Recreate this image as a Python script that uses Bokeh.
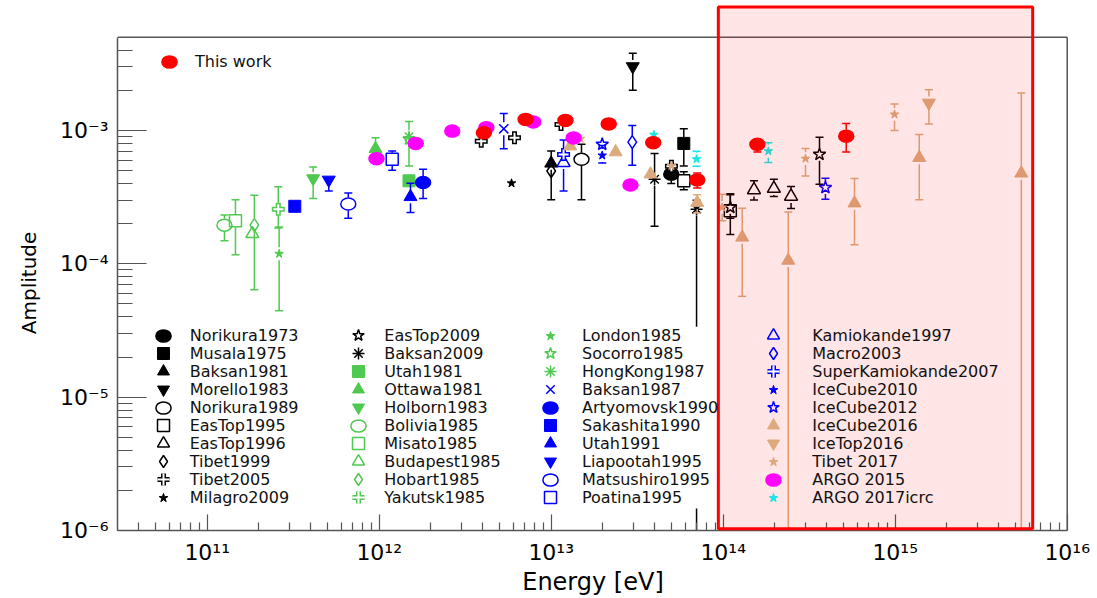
import math
from bokeh.plotting import figure
from bokeh.models import ColumnDataSource, FixedTicker, Legend, LegendItem
from bokeh.embed import file_html
from bokeh.resources import INLINE

# ---------------- data: (energy eV, amplitude[, lower, upper]) ----------------
norikura1973 = [(4.99e13, 4.70e-4, 4.0e-4, 5.5e-4)]
musala1975 = [(5.90e13, 8.0e-4, 5.42e-4, 1.03e-3)]
baksan1981 = [(1.0e13, 5.67e-4, 3.02e-4, 7.01e-4)]
morello1983 = [(2.98e13, 3.02e-3, 2.0e-3, 3.80e-3)]
norikura1989 = [(1.50e13, 6.08e-4, 3.02e-4, 7.87e-4)]
eastop1995 = [(5.9e13, 4.19e-4, 3.6e-4, 4.9e-4), (1.10e14, 2.5e-4, 1.66e-4, 3.36e-4)]
eastop1996 = [(1.51e14, 3.58e-4, 3.01e-4, 4.19e-4), (1.97e14, 3.67e-4, 3.2e-4, 4.3e-4),
              (2.48e14, 3.20e-4, 2.6e-4, 3.8e-4)]
tibet1999 = [(1.0e13, 4.97e-4)]
tibet2005 = [(3.92e12, 8.32e-4), (6.12e12, 8.83e-4), (1.14e13, 1.11e-3), (5.0e13, 5.4e-4)]
milagro2009 = [(5.88e12, 4.02e-4)]
eastop2009 = [(1.10e14, 2.65e-4, 2.2e-4, 3.3e-4), (3.63e14, 6.62e-4, 3.95e-4, 8.91e-4)]
baksan2009 = [(3.99e13, 4.31e-4, 1.91e-4, 6.73e-4), (7.0e13, 2.57e-4, 1.0e-6, 3.0e-4)]

utah1981 = [(1.49e12, 4.19e-4)]
ottawa1981 = [(9.52e11, 7.30e-4, 6.0e-4, 8.83e-4)]
holborn1983 = [(4.13e11, 4.36e-4, 3.09e-4, 5.32e-4)]
bolivia1985 = [(1.26e11, 1.95e-4, 1.49e-4, 2.32e-4)]
misato1985 = [(1.46e11, 2.10e-4, 1.17e-4, 3.02e-4)]
budapest1985 = [(1.83e11, 1.68e-4)]
hobart1985 = [(1.88e11, 1.95e-4, 6.4e-5, 3.27e-4)]
yakutsk1985 = [(2.59e11, 2.57e-4, 1.86e-4, 3.78e-4)]
london1985 = [(2.62e11, 1.19e-4, 4.45e-5, 1.89e-4)]
socorro1985 = [(1.49e12, 8.6e-4)]
hongkong1987 = [(1.49e12, 8.97e-4, 5.42e-4, 1.17e-3)]

baksan1987 = [(5.30e12, 1.03e-3, 7.30e-4, 1.34e-3)]
artyomovsk1990 = [(1.80e12, 4.07e-4, 3.09e-4, 5.12e-4)]
sakashita1990 = [(3.23e11, 2.70e-4, 2.5e-4, 2.9e-4)]
utah1991 = [(1.52e12, 3.18e-4, 2.43e-4, 4.02e-4)]
liapootah1995 = [(5.09e11, 4.26e-4, 3.52e-4, 4.70e-4)]
matsushiro1995 = [(6.61e11, 2.81e-4, 2.20e-4, 3.39e-4)]
poatina1995 = [(1.19e12, 6.08e-4, 5.03e-4, 7.01e-4)]
kamiokande1997 = [(1.18e13, 5.74e-4, 3.52e-4, 8.47e-4)]
macro2003 = [(2.96e13, 8.18e-4, 5.48e-4, 1.09e-3)]
superkamiokande2007 = [(1.18e13, 6.6e-4)]
icecube2010 = [(1.98e13, 6.50e-4, 5.7e-4, 7.7e-4)]
icecube2012 = [(1.98e13, 7.87e-4), (3.93e14, 3.73e-4, 3.05e-4, 4.39e-4)]

icecube2016 = [(1.29e13, 7.63e-4), (2.37e13, 6.89e-4), (3.78e13, 4.70e-4),
               (7.06e13, 2.88e-4, 2.4e-4, 3.3e-4), (1.29e14, 1.58e-4, 5.7e-5, 2.61e-4),
               (2.39e14, 1.06e-4, 1.0e-6, 2.45e-4), (5.80e14, 2.85e-4, 1.39e-4, 4.36e-4),
               (1.38e15, 6.25e-4, 3.02e-4, 9.33e-4), (5.41e15, 4.78e-4, 1.0e-6, 1.91e-3)]
icetop2016 = [(1.57e15, 1.61e-3, 1.12e-3, 2.02e-3)]
tibet2017 = [(1.48e13, 8.67e-4), (5.0e13, 5.42e-4), (9.86e13, 2.65e-4, 2.10e-4, 3.33e-4),
             (3.01e14, 6.15e-4, 4.56e-4, 7.34e-4), (9.91e14, 1.32e-3, 1.0e-3, 1.58e-3)]
argo2015 = [(9.64e11, 6.15e-4), (1.63e12, 8.0e-4), (2.66e12, 9.9e-4), (4.2e12, 1.05e-3),
            (7.86e12, 1.16e-3), (1.35e13, 8.8e-4), (2.89e13, 3.9e-4, 3.5e-4, 4.2e-4)]
argo2017icrc = [(3.95e13, 9.3e-4), (7.0e13, 6.1e-4, 5.4e-4, 7.0e-4), (1.83e14, 7.0e-4, 5.74e-4, 8.1e-4)]
this_work = [(4.06e12, 9.6e-4), (7.10e12, 1.21e-3), (1.21e13, 1.19e-3), (2.16e13, 1.12e-3),
             (3.92e13, 8.1e-4), (7.06e13, 4.26e-4, 3.7e-4, 4.8e-4),
             (1.58e14, 7.87e-4, 6.9e-4, 8.7e-4), (5.19e14, 9.07e-4, 6.9e-4, 1.13e-3)]

# highlighted energy window
box_E = (9.37e13, 6.30e15)
box_A = (1.03e-6, 8.45e-3)

x_major = [1e11, 1e12, 1e13, 1e14, 1e15, 1e16]
x_labels = ["10\u00b9\u00b9", "10\u00b9\u00b2", "10\u00b9\u00b3", "10\u00b9\u2074", "10\u00b9\u2075", "10\u00b9\u2076"]
y_major = [1e-6, 1e-5, 1e-4, 1e-3]
y_labels = ["10\u207b\u2076", "10\u207b\u2075", "10\u207b\u2074", "10\u207b\u00b3"]

# ---------------- styles ----------------
BLACK, GREEN, BLUE = "black", "#4fc94f", "#0000ff"
TAN, MAGENTA, CYAN, RED = "#dcaa7c", "#ff00ff", "#19e6e6", "#ff0000"
FONT = "DejaVu Sans"
FRAME = "#555555"

series = [
    ("Norikura1973", norikura1973, BLACK, "circle", True),
    ("Musala1975", musala1975, BLACK, "square", True),
    ("Baksan1981", baksan1981, BLACK, "triangle", True),
    ("Morello1983", morello1983, BLACK, "inverted_triangle", True),
    ("Norikura1989", norikura1989, BLACK, "circle", False),
    ("EasTop1995", eastop1995, BLACK, "square", False),
    ("EasTop1996", eastop1996, BLACK, "triangle", False),
    ("Tibet1999", tibet1999, BLACK, "diamond", False),
    ("Tibet2005", tibet2005, BLACK, "ocross", False),
    ("Milagro2009", milagro2009, BLACK, "smallstar", True),
    ("EasTop2009", eastop2009, BLACK, "star", False),
    ("Baksan2009", baksan2009, BLACK, "asterisk", False),
    ("Utah1981", utah1981, GREEN, "square", True),
    ("Ottawa1981", ottawa1981, GREEN, "triangle", True),
    ("Holborn1983", holborn1983, GREEN, "inverted_triangle", True),
    ("Bolivia1985", bolivia1985, GREEN, "circle", False),
    ("Misato1985", misato1985, GREEN, "square", False),
    ("Budapest1985", budapest1985, GREEN, "triangle", False),
    ("Hobart1985", hobart1985, GREEN, "diamond", False),
    ("Yakutsk1985", yakutsk1985, GREEN, "ocross", False),
    ("London1985", london1985, GREEN, "smallstar", True),
    ("Socorro1985", socorro1985, GREEN, "star", False),
    ("HongKong1987", hongkong1987, GREEN, "asterisk", False),
    ("Baksan1987", baksan1987, BLUE, "x", False),
    ("Artyomovsk1990", artyomovsk1990, BLUE, "circle", True),
    ("Sakashita1990", sakashita1990, BLUE, "square", True),
    ("Utah1991", utah1991, BLUE, "triangle", True),
    ("Liapootah1995", liapootah1995, BLUE, "inverted_triangle", True),
    ("Matsushiro1995", matsushiro1995, BLUE, "circle", False),
    ("Poatina1995", poatina1995, BLUE, "square", False),
    ("Kamiokande1997", kamiokande1997, BLUE, "triangle", False),
    ("Macro2003", macro2003, BLUE, "diamond", False),
    ("SuperKamiokande2007", superkamiokande2007, BLUE, "ocross", False),
    ("IceCube2010", icecube2010, BLUE, "smallstar", True),
    ("IceCube2012", icecube2012, BLUE, "star", False),
    ("IceCube2016", icecube2016, TAN, "triangle", True),
    ("IceTop2016", icetop2016, TAN, "inverted_triangle", True),
    ("Tibet 2017", tibet2017, TAN, "smallstar", True),
    ("ARGO 2015", argo2015, MAGENTA, "circle", True),
    ("ARGO 2017icrc", argo2017icrc, CYAN, "smallstar", True),
]

# ---------------- geometry of the frame (pixels) ----------------
FL, FR, FT, FB = 117, 1068, 3, 533
X_DEC, Y_DEC = 172.0, 134.1
X_REF_PX, X_REF_LOG = 206.7, 11.0
x_start = 10 ** (X_REF_LOG - (X_REF_PX - FL) / X_DEC)
x_end = 10 ** (X_REF_LOG + (FR - X_REF_PX) / X_DEC)
y_start = 1e-6
y_end = 10 ** (-6 + (FB - FT) / Y_DEC)

def px_to_E(px):
    return 10 ** (X_REF_LOG + (px - X_REF_PX) / X_DEC)

def py_to_A(py):
    return 10 ** (-6 + (FB - py) / Y_DEC)

p = figure(width=1097, height=598, x_axis_type="log", y_axis_type="log",
           x_range=(x_start, x_end), y_range=(y_start, y_end),
           output_backend="svg", toolbar_location=None,
           min_border_left=FL, min_border_right=1097 - FR,
           min_border_top=FT, min_border_bottom=598 - FB)
p.outline_line_color = None
p.xgrid.visible = False
p.ygrid.visible = False
p.background_fill_color = "white"

# axes
xa, ya = p.xaxis[0], p.yaxis[0]
xminor = [m * 10 ** e for e in range(10, 16) for m in range(2, 10) if x_start < m * 10 ** e < 1e16]
yminor = [m * 10 ** e for e in range(-6, -2) for m in range(2, 10) if m * 10 ** e < 5e-3]
xa.ticker = FixedTicker(ticks=x_major, minor_ticks=xminor)
ya.ticker = FixedTicker(ticks=y_major, minor_ticks=yminor)
xa.bounds = (x_start, 1e16)
ya.bounds = (1e-6, 5e-3)
xa.major_label_overrides = {v: s for v, s in zip(x_major, x_labels)}
ya.major_label_overrides = {v: s for v, s in zip(y_major, y_labels)}
for ax, tin, tmin in ((xa, 16, 8), (ya, 29, 15)):
    ax.major_tick_in = tin
    ax.major_tick_out = 0
    ax.minor_tick_in = tmin
    ax.minor_tick_out = 0
    ax.axis_line_color = FRAME
    ax.axis_line_width = 1.5
    ax.major_tick_line_color = FRAME
    ax.minor_tick_line_color = FRAME
    ax.major_tick_line_width = 1.2
    ax.minor_tick_line_width = 1.2
    ax.major_label_text_font = FONT
    ax.major_label_text_font_size = "22px"
    ax.major_label_text_color = "black"
    ax.axis_label_text_font = FONT
    ax.axis_label_text_font_style = "normal"
    ax.axis_label_text_color = "black"
xa.axis_label = "Energy [eV]"
xa.axis_label_text_font_size = "24px"
# trailing no-break spaces shift the rotated title down to the centre of the drawn frame
ya.axis_label = "Amplitude" + "\u00a0" * 5
ya.axis_label_text_font_size = "20px"
xa.major_label_standoff = 9
ya.major_label_standoff = 9
xa.axis_label_standoff = 0
ya.axis_label_standoff = 16

# remaining frame sides
p.segment(x0=[x_start, 1e16], y0=[5e-3, 1e-6], x1=[1e16, 1e16], y1=[5e-3, 5e-3],
          line_color=FRAME, line_width=1.5)

GAP = 10 ** (6.5 / Y_DEC)
SIZES = {"square": 12, "triangle": 13, "inverted_triangle": 13, "diamond": 13, "star": 13,
         "smallstar": 9, "asterisk": 12, "x": 13, "ocross": 13}

def draw_series(pts, color, marker, filled):
    E = [q[0] for q in pts]
    A = [q[1] for q in pts]
    x0, y0, x1, y1, cx, cy = [], [], [], [], [], []
    for q in pts:
        if len(q) < 4:
            continue
        e, a, lo, hi = q
        if hi > a * GAP:
            x0.append(e); y0.append(a * GAP); x1.append(e); y1.append(hi)
            cx.append(e); cy.append(hi)
        if lo < a / GAP:
            x0.append(e); y0.append(lo); x1.append(e); y1.append(a / GAP)
            if lo > 1e-6:
                cx.append(e); cy.append(lo)
    if x0:
        p.segment(x0=x0, y0=y0, x1=x1, y1=y1, line_color=color, line_width=1.5)
    if cx:
        p.scatter(cx, cy, marker="dash", size=8, line_color=color, line_width=1.5)
    src = ColumnDataSource(dict(E=E, A=A))
    fill = color if filled else None
    if marker == "circle":
        r = p.ellipse("E", "A", width=15, height=12, width_units="screen", height_units="screen",
                      source=src, fill_color=fill, line_color=color, line_width=1.5)
        return [r]
    if marker == "ocross":
        r1 = p.scatter("E", "A", source=src, marker="cross", size=13, line_color=color, line_width=5)
        r2 = p.scatter("E", "A", source=src, marker="cross", size=10, line_color="white", line_width=2)
        return [r1, r2]
    m = "star" if marker == "smallstar" else marker
    r = p.scatter("E", "A", source=src, marker=m, size=SIZES[marker], fill_color=fill,
                  line_color=color, line_width=1.5 if not filled else 1)
    return [r]

legend_renderers = {}
kinds = {}
for name, pts, color, marker, filled in series:
    legend_renderers[name] = draw_series(pts, color, marker, filled)
    kinds[name] = marker
tw = draw_series(this_work, RED, "circle", True)

# opaque white legend box behind the first three legend columns
p.quad(left=[px_to_E(140)], right=[px_to_E(730)], bottom=[py_to_A(511)], top=[py_to_A(328)],
       fill_color="white", line_color=None)

# highlighted window (translucent overlay)
p.quad(left=[box_E[0]], right=[box_E[1]], bottom=[box_A[0]], top=[box_A[1]],
       fill_color=RED, fill_alpha=0.1, line_color=RED, line_width=3, level="overlay")

# legends: one entry per legend so rows can be packed like the original
ROW0, ROW_PITCH = 338.3, 18.0
COL_CX = [162.7, 358.3, 550.0, 773.3]
COL_LX = [190.0, 384.3, 582.3, 812.7]

def add_entry(label, renderers, kind, cx, cy, lx):
    if kind == "circle":
        gw, gh = 32, 19
    elif kind == "smallstar":
        gw, gh = 32, 23
    else:
        gw, gh = 32, 30
    lg = Legend(items=[LegendItem(label=label, renderers=renderers)],
                location=(cx - gw / 2 - FL, FB - (cy + gh / 2)),
                glyph_width=gw, glyph_height=gh, label_height=gh, spacing=0,
                padding=0, margin=0, label_standoff=int(round(lx - (cx + gw / 2))),
                label_text_font=FONT, label_text_font_size="16px", label_text_color="#111111",
                border_line_color=None, background_fill_alpha=0.0)
    p.add_layout(lg)

for i, (name, *_rest) in enumerate(series):
    col, row = divmod(i, 10)
    add_entry(name, legend_renderers[name], kinds[name], COL_CX[col], ROW0 + row * ROW_PITCH, COL_LX[col])
add_entry("This work", tw, "circle", 169, 64, 195)

open("out.html", "w").write(file_html(p, INLINE))
